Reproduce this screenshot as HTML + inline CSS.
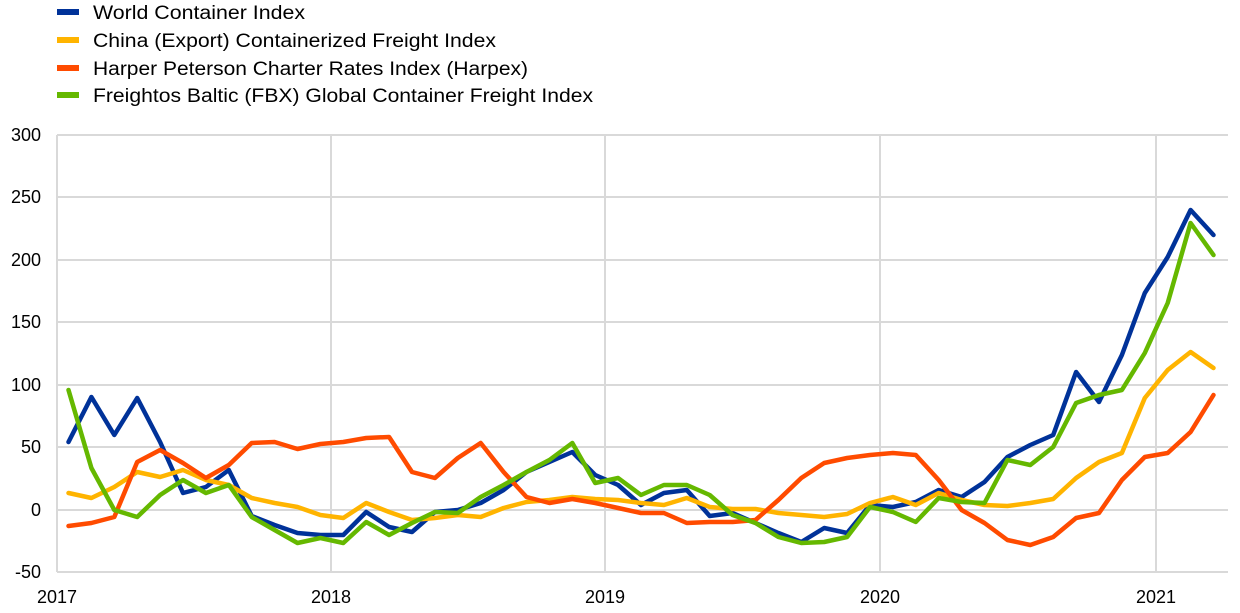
<!DOCTYPE html>
<html><head><meta charset="utf-8"><style>
html,body{margin:0;padding:0;background:#fff;}
svg{display:block;font-family:"Liberation Sans",Arial,sans-serif;}
</style></head><body>
<svg width="1240" height="613" viewBox="0 0 1240 613" xmlns="http://www.w3.org/2000/svg">
<g stroke="#d9d9d9" stroke-width="2">
<line x1="57" y1="135" x2="1228" y2="135"/><line x1="57" y1="197" x2="1228" y2="197"/>
<line x1="57" y1="260" x2="1228" y2="260"/><line x1="57" y1="322" x2="1228" y2="322"/>
<line x1="57" y1="385" x2="1228" y2="385"/><line x1="57" y1="447" x2="1228" y2="447"/>
<line x1="57" y1="510" x2="1228" y2="510"/><line x1="57" y1="572" x2="1228" y2="572"/>
<line x1="57" y1="135" x2="57" y2="572"/><line x1="331" y1="135" x2="331" y2="572"/>
<line x1="605" y1="135" x2="605" y2="572"/><line x1="880" y1="135" x2="880" y2="572"/>
<line x1="1156" y1="135" x2="1156" y2="572"/>
</g>
<g font-size="18" fill="#000" text-anchor="end">
<text x="41" y="141">300</text><text x="41" y="203">250</text><text x="41" y="266">200</text>
<text x="41" y="328">150</text><text x="41" y="391">100</text><text x="41" y="453">50</text>
<text x="41" y="516">0</text><text x="41" y="578">-50</text>
</g>
<g font-size="18" fill="#000" text-anchor="middle">
<text x="57" y="603">2017</text><text x="331" y="603">2018</text><text x="605" y="603">2019</text>
<text x="880" y="603">2020</text><text x="1156" y="603">2021</text>
</g>
<g font-size="19" fill="#000">
<rect x="57" y="9" width="22" height="6" fill="#003299"/><text x="93" y="19" textLength="212" lengthAdjust="spacingAndGlyphs">World Container Index</text>
<rect x="57" y="37" width="22" height="6" fill="#ffb400"/><text x="93" y="47" textLength="403" lengthAdjust="spacingAndGlyphs">China (Export) Containerized Freight Index</text>
<rect x="57" y="65" width="22" height="6" fill="#ff4b00"/><text x="93" y="75" textLength="435" lengthAdjust="spacingAndGlyphs">Harper Peterson Charter Rates Index (Harpex)</text>
<rect x="57" y="92" width="22" height="6" fill="#65b800"/><text x="93" y="102" textLength="500" lengthAdjust="spacingAndGlyphs">Freightos Baltic (FBX) Global Container Freight Index</text>
</g>
<g fill="none" stroke-width="4.5" stroke-linejoin="round" stroke-linecap="round" id="lines"></g>
<script>
var Y={
b:[442,397,435,398,442,493,487,470,516,525,533,535,535,512,527,532,512,510,503,490,472,462,452,475,485,505,493,490,516,513,523,533,542,528,533,505,507,502,490,497,482,457,445,435,372,402,355,293,257,210,235],
y:[493,498,487,472,477,470,480,485,498,503,507,515,518,503,512,520,518,515,517,508,502,500,497,499,500,503,505,498,507,509,509,513,515,517,514,503,497,505,493,500,505,506,503,499,478,462,453,398,370,352,368],
r:[526,523,517,462,450,463,478,465,443,442,449,444,442,438,437,472,478,458,443,472,497,503,499,503,508,513,513,523,522,522,520,500,478,463,458,455,453,455,480,510,523,540,545,537,518,513,480,457,453,432,395],
g:[390,468,510,517,495,480,493,485,517,530,543,538,543,522,535,523,512,513,497,485,472,460,443,483,478,495,485,485,495,515,523,537,543,542,537,507,512,522,498,502,503,460,465,447,403,395,390,353,303,223,255]};
var C={b:"#003299",y:"#ffb400",r:"#ff4b00",g:"#65b800"};
var g=document.getElementById("lines");
["b","y","r","g"].forEach(function(k){
 var p=Y[k].map(function(v,i){return (68.5+22.9*i).toFixed(1)+","+v;}).join(" ");
 var e=document.createElementNS("http://www.w3.org/2000/svg","polyline");
 e.setAttribute("points",p);e.setAttribute("stroke",C[k]);g.appendChild(e);
});
</script>
</svg>
</body></html>
